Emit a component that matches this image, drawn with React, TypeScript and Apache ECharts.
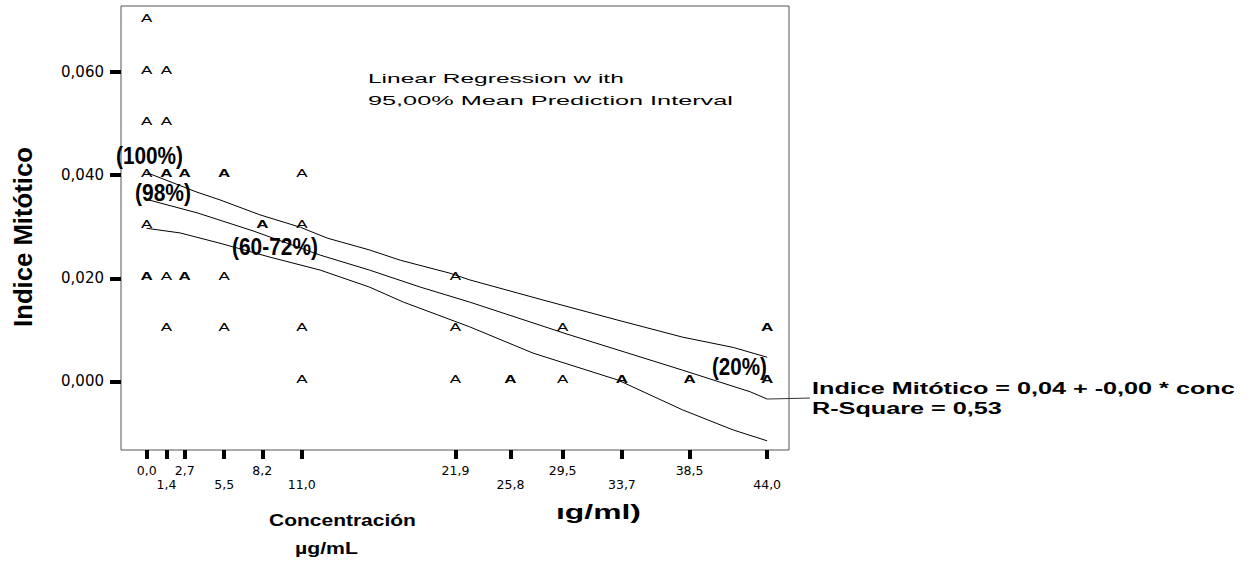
import React, { useEffect, useRef } from 'react';
import * as echarts from 'echarts';

// ---- axis ticks ----
const concTicks = [0, 1.4, 2.7, 5.5, 8.2, 11.0, 21.9, 25.8, 29.5, 33.7, 38.5, 44.0];
const concTickLabels = ['0,0', '1,4', '2,7', '5,5', '8,2', '11,0', '21,9', '25,8', '29,5', '33,7', '38,5', '44,0'];
const indiceTicks = [0, 0.02, 0.04, 0.06];
const indiceTickLabels = ['0,000', '0,020', '0,040', '0,060'];

// ---- observations (concentration, índice mitótico, overlapping cases drawn bold) ----
const obsConc = [
  0, 0, 0, 0, 0, 0,
  1.4, 1.4, 1.4, 1.4, 1.4,
  2.7, 2.7,
  5.5, 5.5, 5.5,
  8.2,
  11.0, 11.0, 11.0, 11.0,
  21.9, 21.9, 21.9,
  25.8,
  29.5, 29.5,
  33.7,
  38.5,
  44.0, 44.0,
];
const obsIndice = [
  0.07, 0.06, 0.05, 0.04, 0.03, 0.02,
  0.06, 0.05, 0.04, 0.02, 0.01,
  0.04, 0.02,
  0.04, 0.02, 0.01,
  0.03,
  0.04, 0.03, 0.01, 0.0,
  0.02, 0.01, 0.0,
  0.0,
  0.01, 0.0,
  0.0,
  0.0,
  0.01, 0.0,
];
const obsOverlap = [
  0, 0, 0, 0, 0, 1,
  0, 0, 1, 0, 0,
  1, 1,
  1, 0, 0,
  1,
  0, 0, 0, 0,
  0, 0, 0,
  1,
  0, 0,
  1,
  1,
  1, 1,
];

// ---- regression line and 95% mean prediction interval ----
const upperX = [0, 3.57, 5.2, 8.04, 10.9, 12.8, 15.8, 18.0, 21.5, 22.9, 28.1, 33.4, 38.0, 41.6, 44.0];
const upperY = [0.0405, 0.0367, 0.0352, 0.0323, 0.0299, 0.0278, 0.0255, 0.0235, 0.021, 0.0197, 0.0158, 0.0119, 0.0086, 0.0066, 0.0047];
const fitX = [0, 3.57, 7.54, 12.3, 15.8, 19.4, 22.9, 29.8, 38.0, 42.8, 44.0];
const fitY = [0.0353, 0.0327, 0.0292, 0.0245, 0.0216, 0.0183, 0.0154, 0.0092, 0.0022, -0.002, -0.0034];
const lowerX = [0, 2.37, 5.2, 8.75, 12.3, 15.8, 18.2, 22.9, 27.4, 33.4, 38.0, 41.6, 44.0];
const lowerY = [0.0297, 0.0288, 0.0268, 0.0241, 0.0216, 0.0183, 0.0154, 0.0106, 0.0055, 0.0003, -0.0055, -0.0094, -0.0115];

const zip = (xs: number[], ys: number[]) => xs.map((x, i) => [x, ys[i]]);
const findIdx = (arr: number[], v: number) => arr.findIndex((a) => Math.abs(a - v) < 1e-9);

export default function App() {
  const ref = useRef<HTMLDivElement>(null);

  useEffect(() => {
    document.body.style.margin = '0';
    const chart = echarts.init(ref.current!, null, { renderer: 'svg' });

    const lineSeries = (name: string, data: number[][]) => ({
      name,
      type: 'line',
      data,
      symbol: 'none',
      silent: true,
      lineStyle: { color: '#000', width: 1 },
      z: 3,
    });

    chart.setOption({
      animation: false,
      grid: {
        left: 121,
        right: 470,
        top: 6,
        bottom: 111,
        show: true,
        borderColor: '#555',
        borderWidth: 1,
        containLabel: false,
        outerBoundsMode: 'none',
      },
      xAxis: {
        type: 'value',
        min: -1.82,
        max: 45.55,
        axisLine: { show: false, onZero: false },
        splitLine: { show: false },
        axisTick: {
          show: true,
          customValues: concTicks,
          length: 9,
          lineStyle: { color: '#000', width: 4 },
        },
        axisLabel: {
          customValues: concTicks,
          formatter: (v: number) => {
            const i = findIdx(concTicks, v);
            if (i < 0) return '';
            return i % 2 === 1 ? '\n' + concTickLabels[i] : concTickLabels[i];
          },
          margin: 13,
          fontSize: 12.5,
          lineHeight: 14.5,
          fontFamily: 'DejaVu Sans',
          color: '#000',
        },
      },
      yAxis: {
        type: 'value',
        min: -0.01328,
        max: 0.07279,
        axisLine: { show: false, onZero: false },
        splitLine: { show: false },
        axisTick: {
          show: true,
          customValues: indiceTicks,
          length: 11,
          lineStyle: { color: '#000', width: 4 },
        },
        axisLabel: {
          customValues: indiceTicks,
          formatter: (v: number) => {
            const i = findIdx(indiceTicks, v);
            return i < 0 ? '' : indiceTickLabels[i];
          },
          margin: 17,
          fontSize: 15,
          fontFamily: 'DejaVu Sans',
          color: '#000',
        },
      },
      series: [
        lineSeries('Upper 95%', zip(upperX, upperY)),
        lineSeries('Fit', zip(fitX, fitY)),
        lineSeries('Lower 95%', zip(lowerX, lowerY)),
        {
          name: 'Observed',
          type: 'custom',
          silent: true,
          z: 4,
          data: obsConc.map((c, i) => [c, obsIndice[i], obsOverlap[i]]),
          renderItem: (_params: any, api: any) => {
            const p = api.coord([api.value(0), api.value(1)]);
            return {
              type: 'text',
              x: p[0],
              y: p[1] - 2,
              scaleX: 1.7,
              style: {
                text: 'A',
                fontSize: 10,
                fontFamily: 'Liberation Sans',
                fontWeight: api.value(2) ? 'bold' : 'normal',
                fill: '#000',
                align: 'center',
                verticalAlign: 'middle',
              },
            };
          },
        },
      ],
    });

    // measure text to reproduce the (horizontally stretched) lettering of the original
    const ctx = document.createElement('canvas').getContext('2d')!;
    const scaleFor = (text: string, size: number, weight: string, target: number) => {
      ctx.font = `${weight} ${size}px "Liberation Sans"`;
      const w = ctx.measureText(text).width;
      return w > 0 ? target / w : 1;
    };

    const notes = [
      { id: 'lr1', text: 'Linear Regression w ith', x: 368, y: 78, size: 13, weight: 'normal', w: 256 },
      { id: 'lr2', text: '95,00% Mean Prediction Interval', x: 368, y: 100, size: 13, weight: 'normal', w: 365 },
      { id: 'p100', text: '(100%)', x: 116, y: 156, size: 23, weight: 'bold', w: 67 },
      { id: 'p98', text: '(98%)', x: 135, y: 193, size: 23, weight: 'bold', w: 56 },
      { id: 'p60', text: '(60-72%)', x: 232, y: 247, size: 23, weight: 'bold', w: 86 },
      { id: 'p20', text: '(20%)', x: 712, y: 367.5, size: 23, weight: 'bold', w: 55 },
      { id: 'eq1', text: 'Indice Mitótico = 0,04 + -0,00 * conc', x: 812, y: 388, size: 16, weight: 'bold', w: 423 },
      { id: 'eq2', text: 'R-Square = 0,53', x: 812, y: 408.5, size: 16, weight: 'bold', w: 190 },
      { id: 'xt1', text: 'Concentración', x: 269, y: 520, size: 17, weight: 'bold', w: 147 },
      { id: 'xt2', text: 'µg/mL', x: 295, y: 548, size: 17, weight: 'bold', w: 63 },
      { id: 'xt3', text: 'ıg/ml)', x: 556, y: 512, size: 21, weight: 'bold', w: 85 },
    ];

    const elements: any[] = notes.map((n) => ({
      id: n.id,
      type: 'text',
      x: n.x,
      y: n.y,
      z: 100,
      scaleX: scaleFor(n.text, n.size, n.weight, n.w),
      style: {
        text: n.text,
        fontSize: n.size,
        fontWeight: n.weight,
        fontFamily: 'Liberation Sans',
        fill: '#000',
        align: 'left',
        verticalAlign: 'middle',
      },
    }));

    const yTitle = 'Indice Mitótico';
    elements.push({
      id: 'ytitle',
      type: 'text',
      x: 23,
      y: 237,
      z: 100,
      rotation: Math.PI / 2,
      scaleX: scaleFor(yTitle, 26, 'bold', 180),
      style: {
        text: yTitle,
        fontSize: 26,
        fontWeight: 'bold',
        fontFamily: 'Liberation Sans',
        fill: '#000',
        align: 'center',
        verticalAlign: 'middle',
      },
    });

    // leader from the end of the fitted line to the equation label
    const end = chart.convertToPixel({ gridIndex: 0 }, [fitX[fitX.length - 1], fitY[fitY.length - 1]]) as number[];
    elements.push({
      id: 'leader',
      type: 'line',
      z: 100,
      shape: { x1: end[0], y1: end[1], x2: 810, y2: end[1] - 1 },
      style: { stroke: '#333', lineWidth: 1 },
    });

    chart.setOption({ graphic: { elements } });

    return () => chart.dispose();
  }, []);

  return <div ref={ref} style={{ width: 1259, height: 561, overflow: 'hidden' }} />;
}
